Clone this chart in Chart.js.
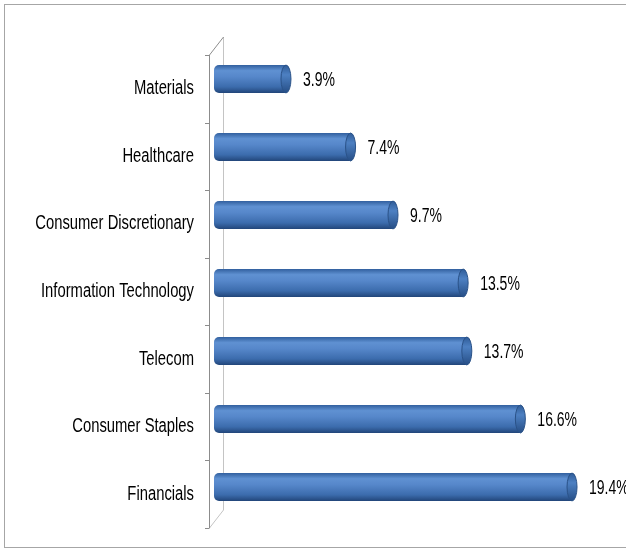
<!DOCTYPE html>
<html><head><meta charset="utf-8">
<script src="https://cdn.jsdelivr.net/npm/chart.js@4/dist/chart.umd.min.js"></script>
<style>
html,body{margin:0;padding:0;background:#fff;overflow:hidden;}
#wrap{position:relative;width:626px;height:554px;overflow:hidden;}
#frame{position:absolute;left:4px;top:4px;width:622px;height:544px;border:1px solid #a6a6a6;border-right:none;box-sizing:border-box;}
canvas{position:absolute;left:0;top:0;}
</style></head>
<body>
<div id="wrap"><div id="frame"></div><canvas id="c" width="626" height="554"></canvas></div>
<script>
const categories = ["Materials","Healthcare","Consumer Discretionary","Information Technology","Telecom","Consumer Staples","Financials"];
const weights = [3.9, 7.4, 9.7, 13.5, 13.7, 16.6, 19.4];
const valueLabels = ["3.9%","7.4%","9.7%","13.5%","13.7%","16.6%","19.4%"];
const FONT = "'Liberation Sans', Arial, sans-serif";
const FONT_SIZE = 20;
const SX_CAT = 0.74;
const SX_VAL = 0.7;
const BAR_PCT = 0.41;

function barGradient(ctx){
  const chart = ctx.chart;
  const ys = chart.scales && chart.scales.y;
  if(!ys || ctx.dataIndex === undefined) return '#4a7ebf';
  const c = ys.getPixelForValue(ctx.dataIndex);
  const slot = (ys.bottom - ys.top) / categories.length;
  const h = slot * BAR_PCT;
  if(!isFinite(c) || !isFinite(h) || h <= 0) return '#4a7ebf';
  const g = chart.ctx.createLinearGradient(0, c - h/2, 0, c + h/2);
  g.addColorStop(0, '#32609f');
  g.addColorStop(0.2, '#5f91d2');
  g.addColorStop(0.42, '#5687ca');
  g.addColorStop(0.78, '#3c6cad');
  g.addColorStop(1, '#22467a');
  return g;
}

function narrowText(ctx, text, x, y, align, sx){
  ctx.save();
  ctx.translate(x, y);
  ctx.scale(sx, 1);
  ctx.textAlign = align;
  ctx.textBaseline = 'middle';
  ctx.fillText(text, 0, 0);
  ctx.restore();
}

const axis3d = {
  id:'axis3d',
  beforeDatasetsDraw(chart){
    const ctx = chart.ctx, a = chart.chartArea;
    const fx = a.left - 5, bx = a.left + 9;
    const fTop = a.top + 10, fBot = a.bottom + 7, bTop = a.top - 8, bBot = a.bottom - 11;
    ctx.save();
    ctx.lineWidth = 1;
    ctx.strokeStyle = '#c4c4c4';
    ctx.beginPath();
    ctx.moveTo(bx+0.5, bTop); ctx.lineTo(bx+0.5, bBot); ctx.lineTo(fx+0.5, fBot);
    ctx.stroke();
    ctx.strokeStyle = '#8c8c8c';
    ctx.beginPath();
    ctx.moveTo(fx+0.5, fBot); ctx.lineTo(fx+0.5, fTop); ctx.lineTo(bx+0.5, bTop);
    for(let i=0;i<=categories.length;i++){
      const y = Math.round(fTop + i*(fBot - fTop)/categories.length) + 0.5;
      ctx.moveTo(fx - 4, y); ctx.lineTo(fx+0.5, y);
    }
    ctx.stroke();
    ctx.fillStyle = '#000';
    ctx.font = FONT_SIZE + 'px ' + FONT;
    const slotH = (fBot - fTop)/categories.length;
    categories.forEach((lab,i)=>{
      const yc = fTop + (i+0.5)*slotH;
      narrowText(ctx, lab, a.left - 20, yc, 'right', SX_CAT);
    });
    ctx.restore();
  },
  afterDatasetsDraw(chart){
    const ctx = chart.ctx, meta = chart.getDatasetMeta(0);
    ctx.save();
    meta.data.forEach((el,i)=>{
      const h = el.height, x = el.x, y = el.y;
      const g = ctx.createLinearGradient(0, y - h/2, 0, y + h/2);
      g.addColorStop(0, '#2f5c98'); g.addColorStop(0.35, '#4d80c2'); g.addColorStop(1, '#264e86');
      ctx.beginPath();
      ctx.ellipse(x, y, 5, h/2, 0, 0, Math.PI*2);
      ctx.fillStyle = g; ctx.fill();
      ctx.strokeStyle = '#2a5288'; ctx.lineWidth = 1; ctx.stroke();
      ctx.fillStyle = '#000';
      ctx.font = FONT_SIZE + 'px ' + FONT;
      narrowText(ctx, valueLabels[i], x + 17, y + 1, 'left', SX_VAL);
    });
    ctx.restore();
  }
};

new Chart(document.getElementById('c'), {
  type:'bar',
  data:{ labels: categories, datasets:[{ data: weights, backgroundColor: barGradient,
    borderWidth:0, borderRadius:{topLeft:5,bottomLeft:5,topRight:0,bottomRight:0}, borderSkipped:false,
    barPercentage: BAR_PCT, categoryPercentage:1 }]},
  options:{
    indexAxis:'y', responsive:false, animation:false, devicePixelRatio:1,
    layout:{ padding:{ top:45, bottom:33, left:0, right:6 } },
    plugins:{ legend:{display:false}, tooltip:{enabled:false} },
    scales:{
      x:{ display:false, min:0, max:22 },
      y:{ grid:{display:false, drawTicks:false}, border:{display:false},
          ticks:{ display:false },
          afterFit(s){ s.width = 214; } }
    }
  },
  plugins:[axis3d]
});
</script>
</body></html>
